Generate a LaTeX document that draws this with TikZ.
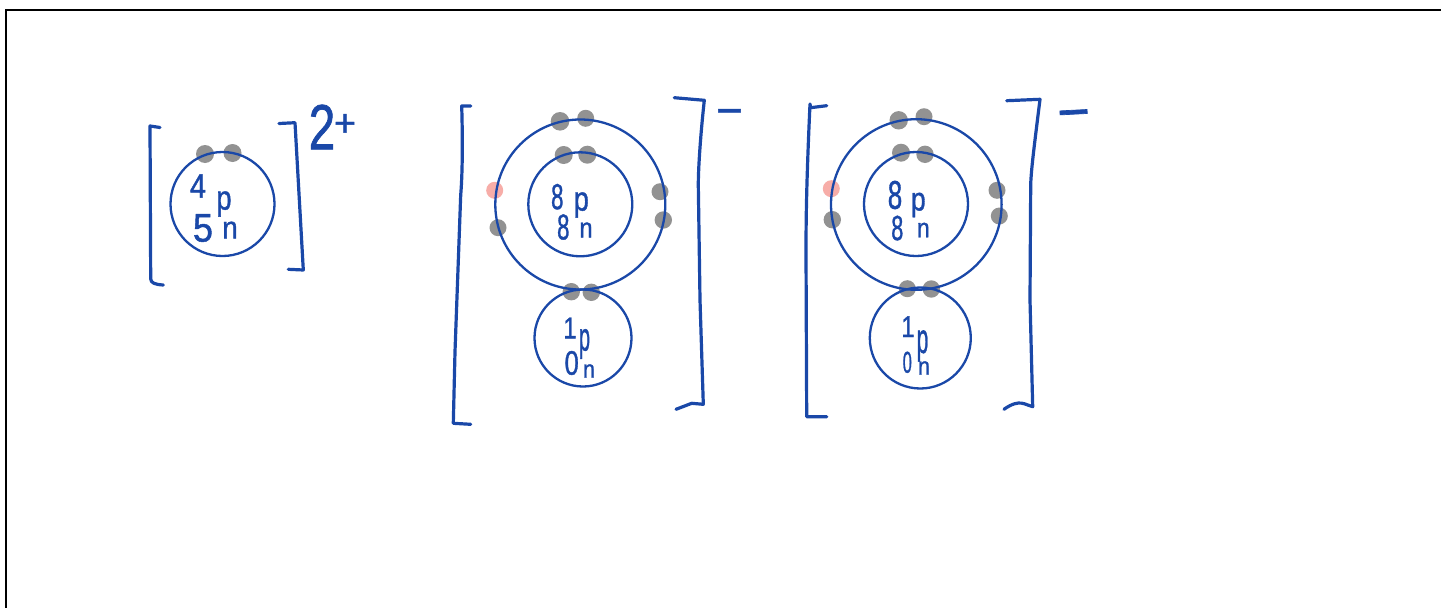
\documentclass[tikz,border=0pt]{standalone}
\usepackage{fontspec}
\setmainfont{Liberation Sans}
\newfontfamily\hwfont[FakeBold=1.2]{Liberation Sans}
\definecolor{ink}{HTML}{1A48A8}
\definecolor{eGray}{HTML}{929292}
\definecolor{ePink}{HTML}{F7ADA8}
\newcommand{\hwsize}[2]{\hwfont\fontsize{#1}{#1}\selectfont #2}
\tikzset{
  frameline/.style={draw=black,line width=2pt},
  shell/.style={draw=ink,line width=2.3pt},
  bracket/.style={draw=ink,line width=3.2pt,line cap=round,line join=round},
  hw/.style={text=ink,inner sep=0pt,outer sep=0pt},
  eg/.style={fill=eGray,draw=none},
  ep/.style={fill=ePink,draw=none}
}
\begin{document}
\begin{tikzpicture}[x=1pt,y=-1pt]
\useasboundingbox (0,0) rectangle (1441,608);
\fill[white] (0,0) rectangle (1441,608);
% frame
\draw[frameline] (6,609) -- (6,10) -- (1442,10);

% --- Atom 1 ---
\fill[eg] (205,154) circle (9);
\fill[eg] (232.5,153) circle (9);
\draw[shell] (222.5,204) circle (52);
\draw[bracket] (160,127.5) -- (150,126) -- (150.7,279) .. controls (151,283) and (155,284.5) .. (163.3,285);
\draw[bracket] (279,123.5) -- (295,122.7) -- (303.3,270) -- (288.3,269.3);
\node[hw,xscale=0.85] (a4) at (198,186) {\hwsize{34}{4}};
\node[hw,xscale=0.8] (ap) at (224,204) {\hwsize{34}{p}};
\node[hw,xscale=0.9] (a5) at (203,228) {\hwsize{40}{5}};
\node[hw,xscale=0.9] (an) at (230,230) {\hwsize{31}{n}};
\node[hw,xscale=0.75] (acharge) at (322,127) {\hwsize{64}{2}};
\node[hw] (aplus) at (345,125) {\hwsize{38}{+}};

% --- Atom 2 ---
\foreach \ex/\ey/\er in {560/121.3/9.3, 585.7/118.3/8.5, 563.7/155/9, 587.3/154.7/9, 498/227.7/8.5, 660/191.7/8.5, 663.3/220/8.7, 571.3/291.7/8.7, 591.3/292.3/8.7}
  \fill[eg] (\ex,\ey) circle (\er);
\fill[ep] (494.7,190.3) circle (8.5);
\draw[shell] (580.3,204.5) circle (85);
\draw[shell] (580.3,204.3) circle (52);
\draw[shell] (583,338) circle (48.5);
\draw[bracket] (470.7,106) -- (461.7,106) .. controls (463,150) and (462,180) .. (460.7,195) -- (455,351.7) -- (453.3,423.3) -- (470.7,424.3);
\draw[bracket] (674.3,97.7) -- (704.3,100.3) .. controls (700,140) and (698.3,170) .. (698.3,185) -- (700,300) -- (703.3,404.3) -- (691.7,403.3) -- (676,409.3);
\node[hw,xscale=0.62] (b8a) at (557.3,196.7) {\hwsize{36}{8}};
\node[hw,xscale=0.8] (bp) at (581.3,205) {\hwsize{34}{p}};
\node[hw,xscale=0.62] (b8b) at (563.3,227) {\hwsize{36}{8}};
\node[hw,xscale=0.85] (bn) at (586,230) {\hwsize{28}{n}};
\node[hw,xscale=0.8] (b1) at (570,328) {\hwsize{30}{1}};
\node[hw,xscale=0.5] (bp1) at (584.5,344) {\hwsize{40}{p}};
\node[hw,xscale=0.75] (b0) at (571.7,363) {\hwsize{34}{0}};
\node[hw,xscale=0.85] (bn1) at (589,371) {\hwsize{25}{n}};
\node[hw] (bminus) at (729.5,117.5) {\hwsize{46}{−}};

% --- Atom 3 ---
\foreach \ex/\ey/\er in {898.7/120.3/9.2, 924/116.7/8.5, 901/152.7/9, 925/154.3/8.7, 832.3/219.7/8.7, 997/190.3/8.5, 999.3/216/8.5, 907.3/288.7/8.5, 931.3/289/8.7}
  \fill[eg] (\ex,\ey) circle (\er);
\fill[ep] (831.3,188.7) circle (8.5);
\draw[shell] (916.3,204.5) circle (85.3);
\draw[shell] (916,204) circle (52);
\draw[shell] (920.3,338) circle (50.5);
\draw[bracket] (826.7,105.7) -- (810.7,107.7) -- (810,104) .. controls (807,170) and (806,210) .. (806,251.7) -- (806.7,416.7) -- (826.7,416.7);
\draw[bracket] (1006.7,100.7) -- (1040,99.3) .. controls (1035,140) and (1031,170) .. (1030.7,185) -- (1030,300) -- (1032.7,406.7) .. controls (1025,405) and (1020,398) .. (1004,409.3);
\node[hw,xscale=0.65] (c8a) at (895,195) {\hwsize{40}{8}};
\node[hw,xscale=0.8] (cp) at (918.3,205) {\hwsize{33}{p}};
\node[hw,xscale=0.62] (c8b) at (897.3,228) {\hwsize{35}{8}};
\node[hw,xscale=0.85] (cn) at (923.3,230) {\hwsize{27}{n}};
\node[hw,xscale=0.8] (c1) at (908,326.7) {\hwsize{30}{1}};
\node[hw,xscale=0.5] (cp1) at (922.5,346) {\hwsize{42}{p}};
\node[hw,xscale=0.55] (c0) at (907.3,362.3) {\hwsize{30}{0}};
\node[hw,xscale=0.85] (cn1) at (924,368) {\hwsize{25}{n}};
\node[hw,rotate=3] (cminus) at (1074,120.5) {\hwsize{56}{−}};
\end{tikzpicture}
\end{document}
